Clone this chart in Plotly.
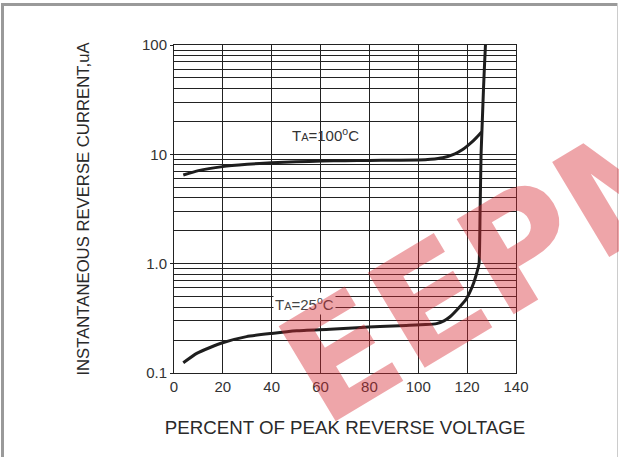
import plotly.graph_objects as go

# ---- data ----
x_100 = [3.8, 10, 19.9, 30, 40, 50, 60.5, 70, 80, 90, 100, 105, 110, 115, 118, 120, 122, 123.5, 124.8, 125.9]
y_100 = [6.47, 7.1, 7.72, 8.1, 8.39, 8.55, 8.68, 8.75, 8.8, 8.84, 8.87, 9.0, 9.3, 10.1, 11.0, 11.9, 13.0, 14.0, 15.0, 16.0]

x_25 = [3.8, 9.3, 15, 19.9, 29.7, 40, 50.2, 63.9, 75, 84.3, 95, 103, 107.5, 110.5, 113, 117, 119.5, 121.2,
        122.7, 123.9, 124.5, 124.9, 125.3, 125.7, 126.2, 126.7, 127.1, 127.5]
y_25 = [0.124, 0.151, 0.172, 0.189, 0.215, 0.23, 0.243, 0.251, 0.26, 0.266, 0.272, 0.277, 0.283, 0.3, 0.327, 0.404, 0.47, 0.555,
        0.67, 0.817, 0.92, 1.0, 3.0, 10, 20, 40, 65, 100]

x_ticks = [0, 20, 40, 60, 80, 100, 120, 140]
y_tickvals = [0.1, 1, 10, 100]
y_ticktext = ["0.1", "1.0", "10", "100"]

label_100 = "T<span style='font-size:11px'>A</span>=100<sup>o</sup>C"
label_25 = "T<span style='font-size:11px'>A</span>=25<sup>o</sup>C"
x_title = "PERCENT OF PEAK REVERSE VOLTAGE"
y_title = "INSTANTANEOUS REVERSE CURRENT,uA"
watermark = "EEPM"

W, H = 619, 457
L, R, T, B = 174, 516, 45, 373

FONT = "Liberation Sans, Arial, sans-serif"
GRID = "#222222"

fig = go.Figure()
fig.add_trace(go.Scatter(x=x_100, y=y_100, mode="lines",
                         line=dict(color="#1e1e1e", width=3, shape="spline", smoothing=0.5),
                         showlegend=False, hoverinfo="skip"))
fig.add_trace(go.Scatter(x=x_25, y=y_25, mode="lines",
                         line=dict(color="#1e1e1e", width=3, shape="spline", smoothing=0.5),
                         showlegend=False, hoverinfo="skip"))

fig.update_layout(
    width=W, height=H,
    margin=dict(l=L, r=W - R, t=T, b=H - B, autoexpand=False),
    paper_bgcolor="white", plot_bgcolor="white",
    font=dict(family=FONT, color="#333333"),
    xaxis=dict(range=[0, 140], tickvals=x_ticks, showgrid=True, gridcolor=GRID, gridwidth=1,
               showline=True, linecolor=GRID, linewidth=1, mirror=True, zeroline=False,
               ticks="", tickfont=dict(size=15, color="#333333"), automargin=False,
               title=dict(text=x_title, font=dict(size=18.7, color="#2a2a2a"), standoff=26)),
    yaxis=dict(type="log", range=[-1, 2], tickvals=y_tickvals, ticktext=y_ticktext,
               showgrid=True, gridcolor=GRID, gridwidth=1,
               minor=dict(dtick="D1", showgrid=True, gridcolor=GRID, gridwidth=1),
               showline=True, linecolor=GRID, linewidth=1, mirror=True, zeroline=False,
               ticks="outside", ticklen=3, tickcolor=GRID, tickfont=dict(size=15, color="#333333"),
               automargin=False,
               title=dict(text=y_title, font=dict(size=16.7, color="#2a2a2a"), standoff=48)),
)

fig.add_annotation(x=62.2, y=1.183, xref="x", yref="y", text=label_100, showarrow=False,
                   font=dict(size=15, color="#333333", family=FONT))
fig.add_annotation(x=53.6, y=-0.36, xref="x", yref="y", text=label_25, showarrow=False,
                   font=dict(size=15, color="#444444", family=FONT), bgcolor="white")

# watermark
fig.add_annotation(x=(498 - L) / (R - L), y=(B - 262) / (B - T), xref="paper", yref="paper",
                   xanchor="center", yanchor="middle",
                   text="<b>" + watermark + "</b>", showarrow=False, textangle=-31,
                   font=dict(size=152, color="rgba(215,40,50,0.42)", family="DejaVu Sans"))

# outer frame
def px(xp):
    return (xp - L) / (R - L)

def py(yp):
    return (B - yp) / (B - T)

fig.add_shape(type="line", xref="paper", yref="paper", x0=px(1), x1=px(618), y0=py(4.5), y1=py(4.5),
              line=dict(color="#9a9a9a", width=3))
fig.add_shape(type="line", xref="paper", yref="paper", x0=px(2.5), x1=px(2.5), y0=py(3), y1=py(457),
              line=dict(color="#9a9a9a", width=3))
fig.add_shape(type="line", xref="paper", yref="paper", x0=px(617.5), x1=px(617.5), y0=py(3), y1=py(457),
              line=dict(color="#cccccc", width=1))

fig.write_html("out.html", config={"displayModeBar": False},
               post_script="document.body.style.margin='0';")
